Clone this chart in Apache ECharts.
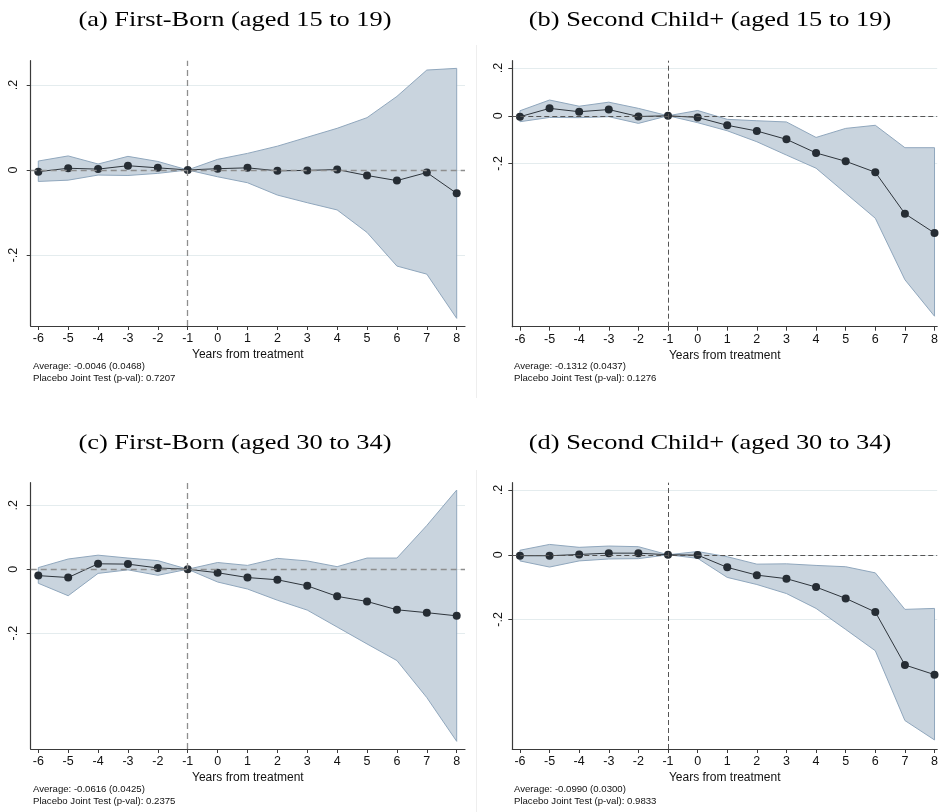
<!DOCTYPE html>
<html>
<head>
<meta charset="utf-8">
<title>Event-study estimates by birth order and age</title>
<script src="https://cdn.jsdelivr.net/npm/echarts@6/dist/echarts.min.js"></script>
<style>
  html, body { margin: 0; padding: 0; background: #ffffff; }
  #chart { width: 941px; height: 812px; }
</style>
</head>
<body>
<div id="chart"></div>
<script>
// Event time relative to treatment
const years = [-6, -5, -4, -3, -2, -1, 0, 1, 2, 3, 4, 5, 6, 7, 8];
const xTickValues = [-6, -5, -4, -3, -2, -1, 0, 1, 2, 3, 4, 5, 6, 7, 8];
const yTickValues = [-0.2, 0, 0.2];
const yTickLabels = ['-.2', '0', '.2'];

// (a) First-Born, aged 15 to 19
const aEst = [-0.004, 0.004, 0.002, 0.010, 0.005, 0, 0.003, 0.005, -0.002, -0.001, 0.001, -0.013, -0.025, -0.006, -0.055];
const aHi  = [0.021, 0.033, 0.014, 0.032, 0.020, 0, 0.025, 0.039, 0.056, 0.077, 0.098, 0.123, 0.173, 0.235, 0.239];
const aLo  = [-0.027, -0.024, -0.012, -0.013, -0.008, 0, -0.016, -0.030, -0.059, -0.077, -0.094, -0.147, -0.226, -0.245, -0.349];

// (b) Second Child+, aged 15 to 19
const bEst = [-0.004, 0.031, 0.017, 0.026, -0.003, 0, -0.007, -0.040, -0.064, -0.099, -0.156, -0.191, -0.237, -0.411, -0.492];
const bHi  = [0.021, 0.066, 0.040, 0.057, 0.031, 0, 0.022, -0.015, -0.021, -0.026, -0.091, -0.053, -0.040, -0.134, -0.134];
const bLo  = [-0.025, -0.007, -0.008, -0.004, -0.032, 0, -0.029, -0.063, -0.109, -0.165, -0.220, -0.325, -0.430, -0.688, -0.841];

// (c) First-Born, aged 30 to 34
const cEst = [-0.020, -0.026, 0.017, 0.016, 0.004, 0, -0.011, -0.026, -0.033, -0.052, -0.085, -0.101, -0.127, -0.136, -0.146];
const cHi  = [0.005, 0.032, 0.044, 0.035, 0.027, 0, 0.021, 0.012, 0.034, 0.026, 0.008, 0.035, 0.035, 0.137, 0.248];
const cLo  = [-0.044, -0.083, -0.013, -0.002, -0.019, 0, -0.040, -0.062, -0.097, -0.128, -0.181, -0.234, -0.286, -0.402, -0.539];

// (d) Second Child+, aged 30 to 34
const dEst = [-0.003, -0.003, 0.001, 0.005, 0.005, 0, -0.001, -0.039, -0.063, -0.074, -0.100, -0.135, -0.177, -0.341, -0.371];
const dHi  = [0.014, 0.032, 0.023, 0.027, 0.025, 0, 0.010, -0.006, -0.029, -0.028, -0.033, -0.037, -0.056, -0.169, -0.166];
const dLo  = [-0.019, -0.038, -0.019, -0.013, -0.012, 0, -0.011, -0.070, -0.092, -0.120, -0.166, -0.231, -0.297, -0.513, -0.573];

const panelTitles = [
  '(a) First-Born (aged 15 to 19)',
  '(b) Second Child+ (aged 15 to 19)',
  '(c) First-Born (aged 30 to 34)',
  '(d) Second Child+ (aged 30 to 34)'
];
const averageNotes = [
  'Average: -0.0046 (0.0468)',
  'Average: -0.1312 (0.0437)',
  'Average: -0.0616 (0.0425)',
  'Average: -0.0990 (0.0300)'
];
const placeboNotes = [
  'Placebo Joint Test (p-val): 0.7207',
  'Placebo Joint Test (p-val): 0.1276',
  'Placebo Joint Test (p-val): 0.2375',
  'Placebo Joint Test (p-val): 0.9833'
];
const xAxisName = 'Years from treatment';

const panelData = [
  { est: aEst, hi: aHi, lo: aLo },
  { est: bEst, hi: bHi, lo: bLo },
  { est: cEst, hi: cHi, lo: cLo },
  { est: dEst, hi: dHi, lo: dLo }
];

// Layout of each panel: plot box, axis ranges and style variants.
// The right-hand panels end at the page edge, so their last period sits right on it.
const layout = [
  { left: 30.7,  top: 60.7,  right: 476, height: 265.3, xMin: -6.254, xMax: 8.278, yMin: -0.367, yMax: 0.257,
    titleX: 235, titleY: 20, noteX: 33, noteY: 361, labelMargin: 11, guide: '#8e8e8e', guideDash: [6, 4], guideWidth: 1.3 },
  { left: 512.3, top: 60.7,  right: 0,   height: 266,   xMin: -6.258, xMax: 8.09,  yMin: -0.885, yMax: 0.231,
    titleX: 710, titleY: 20, noteX: 514, noteY: 361, labelMargin: 7, guide: '#555555', guideDash: [5, 3], guideWidth: 1 },
  { left: 30.7,  top: 482.7, right: 476, height: 266.3, xMin: -6.254, xMax: 8.278, yMin: -0.563, yMax: 0.271,
    titleX: 235, titleY: 443, noteX: 33, noteY: 784, labelMargin: 11, guide: '#8e8e8e', guideDash: [6, 4], guideWidth: 1.3 },
  { left: 512.3, top: 482.7, right: 0,   height: 266.3, xMin: -6.258, xMax: 8.09,  yMin: -0.601, yMax: 0.223,
    titleX: 710, titleY: 443, noteX: 514, noteY: 784, labelMargin: 7, guide: '#555555', guideDash: [5, 3], guideWidth: 1 }
];

const SANS = '"Liberation Sans", Arial, sans-serif';
const SERIF = '"Liberation Serif", "Times New Roman", serif';
const BAND_FILL = '#c9d4de';
const BAND_EDGE = '#90a7bd';
const AXIS_COLOR = '#3a3a3a';

const grids = [], xAxes = [], yAxes = [], series = [], graphics = [];

layout.forEach((L, i) => {
  grids.push({ left: L.left, top: L.top, right: L.right, height: L.height, containLabel: false });

  xAxes.push({
    type: 'value', gridIndex: i, min: L.xMin, max: L.xMax,
    name: xAxisName, nameLocation: 'middle', nameGap: 23,
    nameTextStyle: { fontFamily: SANS, fontSize: 12, color: '#111' },
    axisLine: { show: true, onZero: false, lineStyle: { color: AXIS_COLOR, width: 1.2 } },
    axisTick: { show: true, length: 4, customValues: xTickValues, lineStyle: { color: AXIS_COLOR, width: 1 } },
    axisLabel: { customValues: xTickValues, margin: 6, fontFamily: SANS, fontSize: 12.5, color: '#111',
                 hideOverlap: false, formatter: v => String(v) },
    splitLine: { show: false }
  });

  yAxes.push({
    type: 'value', gridIndex: i, min: L.yMin, max: L.yMax,
    axisLine: { show: true, onZero: false, lineStyle: { color: AXIS_COLOR, width: 1.2 } },
    axisTick: { show: true, length: 4, customValues: yTickValues, lineStyle: { color: AXIS_COLOR, width: 1 } },
    axisLabel: { customValues: yTickValues, rotate: 90, margin: L.labelMargin, fontFamily: SANS, fontSize: 12.5, color: '#111',
                 formatter: v => {
                   const k = yTickValues.findIndex(t => Math.abs(t - v) < 1e-9);
                   return k >= 0 ? yTickLabels[k] : '';
                 } },
    splitLine: { show: true, lineStyle: { color: '#e4ecee', width: 1 } }
  });

  const P = panelData[i];

  // Confidence band: one polygon running along the upper bound and back along the lower bound
  series.push({
    type: 'custom', xAxisIndex: i, yAxisIndex: i, silent: true, z: 1,
    data: years.map((x, k) => [x, P.lo[k], P.hi[k]]),
    encode: { x: 0, y: [1, 2] },
    renderItem: (params, api) => {
      if (params.dataIndex !== 0) return null;
      const pts = [];
      for (let k = 0; k < years.length; k++) pts.push(api.coord([years[k], P.hi[k]]));
      for (let k = years.length - 1; k >= 0; k--) pts.push(api.coord([years[k], P.lo[k]]));
      return {
        type: 'polygon',
        shape: { points: pts },
        style: { fill: BAND_FILL, stroke: BAND_EDGE, lineWidth: 1 }
      };
    }
  });

  // Reference lines at zero effect and at the omitted period
  series.push({
    type: 'line', xAxisIndex: i, yAxisIndex: i, silent: true, z: 2,
    data: [], symbol: 'none',
    markLine: {
      silent: true, symbol: 'none', label: { show: false },
      lineStyle: { color: L.guide, type: L.guideDash, width: L.guideWidth },
      data: [{ yAxis: 0 }, { xAxis: -1 }]
    }
  });

  // Point estimates
  series.push({
    type: 'line', xAxisIndex: i, yAxisIndex: i, silent: true, z: 3, clip: false,
    data: years.map((x, k) => [x, P.est[k]]),
    symbol: 'circle', symbolSize: 8, showSymbol: true,
    lineStyle: { color: '#2e353c', width: 1 },
    itemStyle: { color: '#262d34' }
  });

  graphics.push({
    type: 'text', x: L.titleX, y: L.titleY, scaleX: 1.2, silent: true,
    style: { text: panelTitles[i], font: '22px ' + SERIF, fill: '#000', align: 'center', verticalAlign: 'middle' }
  });
  graphics.push({
    type: 'text', x: L.noteX, y: L.noteY, silent: true,
    style: { text: averageNotes[i] + '\n' + placeboNotes[i], font: '9.6px ' + SANS, lineHeight: 11.6, fill: '#111',
             align: 'left', verticalAlign: 'top' }
  });
});

// Faint frame edges of the right-hand panels
graphics.push({ type: 'line', silent: true, shape: { x1: 476.5, y1: 45, x2: 476.5, y2: 398 }, style: { stroke: '#eeeeee', lineWidth: 1 } });
graphics.push({ type: 'line', silent: true, shape: { x1: 476.5, y1: 470, x2: 476.5, y2: 812 }, style: { stroke: '#eeeeee', lineWidth: 1 } });

const chart = echarts.init(document.getElementById('chart'), null, { renderer: 'canvas' });
chart.setOption({
  animation: false,
  backgroundColor: '#ffffff',
  grid: grids,
  xAxis: xAxes,
  yAxis: yAxes,
  series: series,
  graphic: graphics
});
</script>
</body>
</html>
